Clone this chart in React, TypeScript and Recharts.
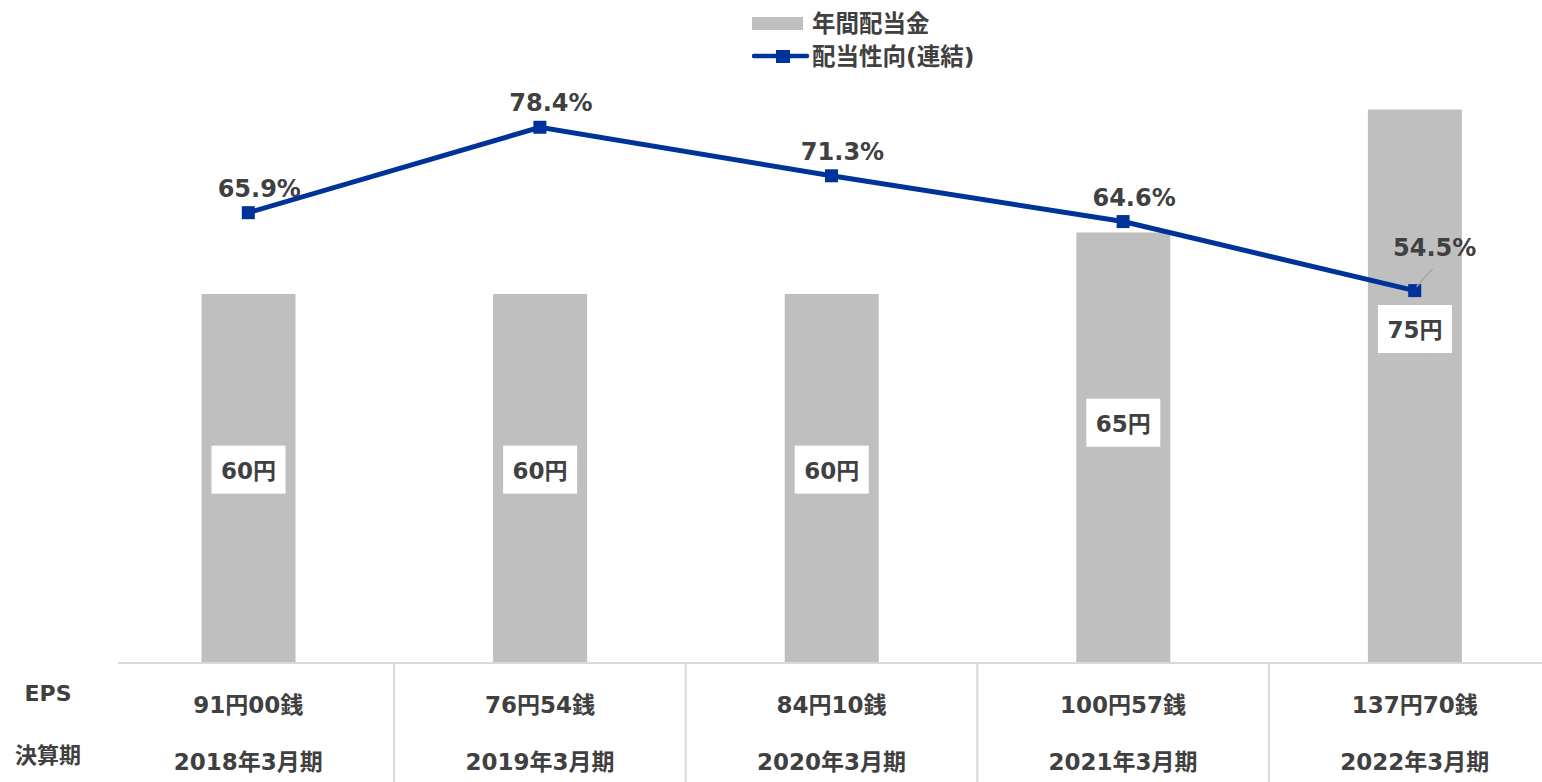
import React from 'react';
import { ComposedChart, Bar, Line, XAxis, YAxis, LabelList, Legend } from 'recharts';

const categories = ['2018年3月期', '2019年3月期', '2020年3月期', '2021年3月期', '2022年3月期'];
const epsLabels = ['91円00銭', '76円54銭', '84円10銭', '100円57銭', '137円70銭'];
const annualDividend = [60, 60, 60, 65, 75];
const payoutRatio = [65.9, 78.4, 71.3, 64.6, 54.5];

const data = categories.map((c, i) => ({
  period: c,
  eps: epsLabels[i],
  dividend: annualDividend[i],
  ratio: payoutRatio[i],
}));

const FONT = '"DejaVu Sans", "Noto Sans CJK JP", sans-serif';
const TEXT = '#404040';
const BAR = '#bfbfbf';
const LINE = '#003399';
const GRID = '#d9d9d9';
const BAR_MIN = 30;
const CAT_W = 291.6;

const BarLabel = (props: any) => {
  const { x, y, width, height, value } = props;
  const base = y + height;
  const pxPerUnit = height / (value - BAR_MIN);
  const cy = base - (0.762 * value - BAR_MIN) * pxPerUnit;
  const cx = x + width / 2;
  return (
    <g>
      <rect x={cx - 37} y={cy - 24} width={74} height={48} fill="#ffffff" />
      <text x={cx} y={cy + 1} textAnchor="middle" dominantBaseline="central" fill={TEXT}
        fontFamily={FONT} fontWeight="bold" fontSize={23}>{`${value}円`}</text>
    </g>
  );
};

const LineLabel = (props: any) => {
  const { x, y, value, index } = props;
  if (index === 4) {
    return (
      <g>
        <line x1={x + 2} y1={y - 4} x2={x + 18} y2={y - 22} stroke="#a6a6a6" strokeWidth={1.5} />
        <text x={x + 20} y={y - 43} textAnchor="middle" dominantBaseline="central" fill={TEXT}
          fontFamily={FONT} fontWeight="bold" fontSize={24}>{`${value.toFixed(1)}%`}</text>
      </g>
    );
  }
  return (
    <text x={x + 11} y={y - 24} textAnchor="middle" dominantBaseline="central" fill={TEXT}
      fontFamily={FONT} fontWeight="bold" fontSize={24}>{`${value.toFixed(1)}%`}</text>
  );
};

const SquareDot = (props: any) => {
  const { cx, cy, index } = props;
  return <rect key={`d${index}`} x={cx - 6.5} y={cy - 6.5} width={13} height={13} fill={LINE} />;
};

const TableTick = (props: any) => {
  const { x, y, payload, index } = props;
  const i = payload.index ?? index;
  const row = data[i];
  const left = i === 0 ? 118 : x - CAT_W / 2;
  return (
    <g>
      <line x1={left} y1={y} x2={x + CAT_W / 2} y2={y} stroke={GRID} strokeWidth={2} />
      {i < categories.length - 1 && (
        <line x1={x + CAT_W / 2} y1={y} x2={x + CAT_W / 2} y2={y + 130} stroke={GRID} strokeWidth={2} />
      )}
      <text x={x} y={y + 42} textAnchor="middle" dominantBaseline="central" fill={TEXT}
        fontFamily={FONT} fontWeight="bold" fontSize={23}>{row.eps}</text>
      <text x={x} y={y + 99} textAnchor="middle" dominantBaseline="central" fill={TEXT}
        fontFamily={FONT} fontWeight="bold" fontSize={23}>{row.period}</text>
      {i === 0 && (
        <g>
          <text x={48} y={y + 30} textAnchor="middle" dominantBaseline="central" fill={TEXT}
            fontFamily={FONT} fontWeight="bold" fontSize={22}>EPS</text>
          <text x={48} y={y + 92} textAnchor="middle" dominantBaseline="central" fill={TEXT}
            fontFamily={FONT} fontWeight="bold" fontSize={22}>決算期</text>
        </g>
      )}
    </g>
  );
};

const LegendContent = () => (
  <svg width={260} height={75} style={{ display: 'block' }}>
    <rect x={0} y={17} width={51} height={13} fill={BAR} />
    <text x={60} y={24} dominantBaseline="central" fill={TEXT} fontFamily={FONT}
      fontWeight="bold" fontSize={23.5}>年間配当金</text>
    <line x1={2} y1={56} x2={55} y2={56} stroke={LINE} strokeWidth={4.5} strokeLinecap="round" />
    <rect x={24} y={50} width={14} height={13} fill={LINE} />
    <text x={60} y={57} dominantBaseline="central" fill={TEXT} fontFamily={FONT}
      fontWeight="bold" fontSize={23.5}>配当性向(連結)</text>
  </svg>
);

export default function App() {
  return (
    <div style={{ position: 'absolute', left: 0, top: 0, width: 1542, height: 782, overflow: 'hidden', background: '#ffffff' }}>
      <ComposedChart
        width={1600}
        height={782}
        data={data}
        margin={{ top: 48, right: 39.5, bottom: 0, left: 102.5 }}
        barCategoryGap={0}
      >
        <XAxis dataKey="period" height={119} axisLine={false} tickLine={false} tickSize={0}
          tickMargin={0} interval={0} tick={<TableTick />} />
        <YAxis yAxisId="left" hide domain={[BAR_MIN, 80]} allowDataOverflow />
        <YAxis yAxisId="right" hide orientation="right" domain={[0, 90]} />
        <Legend layout="vertical" align="center" verticalAlign="middle"
          wrapperStyle={{ position: 'absolute', top: 0, left: 752, width: 260, height: 75 }}
          content={<LegendContent />} />
        <Bar yAxisId="left" dataKey="dividend" fill={BAR} barSize={94} isAnimationActive={false}>
          <LabelList dataKey="dividend" content={<BarLabel />} />
        </Bar>
        <Line yAxisId="right" dataKey="ratio" stroke={LINE} strokeWidth={5} dot={<SquareDot />}
          activeDot={false} isAnimationActive={false}>
          <LabelList dataKey="ratio" content={<LineLabel />} />
        </Line>
      </ComposedChart>
    </div>
  );
}
